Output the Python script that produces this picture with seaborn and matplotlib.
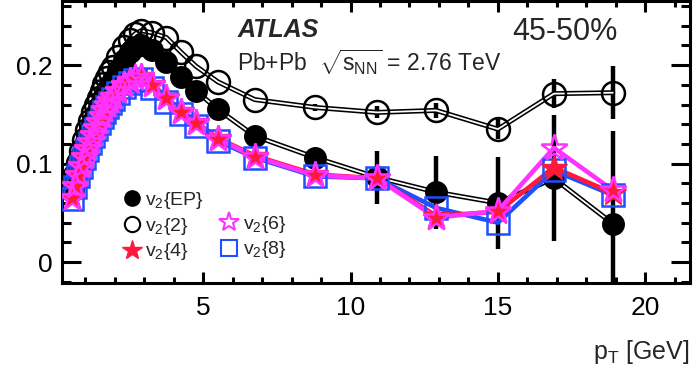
import matplotlib
matplotlib.use('Agg')
import pandas as pd
import matplotlib.pyplot as plt
import seaborn as sns
from matplotlib.lines import Line2D
from matplotlib.ticker import MultipleLocator

# pT bin centres [GeV]
pt = [0.55, 0.65, 0.75, 0.85, 0.95, 1.05, 1.15, 1.25, 1.35, 1.45, 1.55, 1.65, 1.75, 1.85, 1.95,
      2.1, 2.3, 2.5, 2.7, 2.9, 3.25, 3.75, 4.25, 4.75, 5.5, 6.75, 8.8, 10.9, 12.9, 15.0, 16.9, 18.9]

v2_ep = [0.072, 0.085, 0.097, 0.108, 0.118, 0.127, 0.135, 0.143, 0.150, 0.157, 0.163, 0.169, 0.175, 0.180, 0.185,
         0.195, 0.205, 0.213, 0.218, 0.220, 0.215, 0.203, 0.188, 0.174, 0.155, 0.128, 0.106, 0.086, 0.071, 0.060, 0.085, 0.039]
v2_2 = [0.074, 0.088, 0.101, 0.113, 0.124, 0.134, 0.143, 0.152, 0.160, 0.167, 0.174, 0.181, 0.187, 0.193, 0.198,
        0.208, 0.218, 0.226, 0.232, 0.235, 0.233, 0.228, 0.213, 0.199, 0.183, 0.165, 0.157, 0.152, 0.154, 0.135, 0.171, 0.172]
v2_4 = [0.066, 0.078, 0.089, 0.099, 0.108, 0.116, 0.123, 0.130, 0.137, 0.143, 0.149, 0.155, 0.160, 0.165, 0.169,
        0.175, 0.181, 0.185, 0.188, 0.189, 0.181, 0.168, 0.153, 0.142, 0.126, 0.108, 0.089, 0.085, 0.047, 0.051, 0.096, 0.070]
v2_6 = [0.065, 0.077, 0.088, 0.098, 0.107, 0.115, 0.122, 0.129, 0.136, 0.142, 0.148, 0.154, 0.159, 0.164, 0.168,
        0.174, 0.180, 0.184, 0.187, 0.188, 0.180, 0.167, 0.152, 0.141, 0.125, 0.107, 0.088, 0.085, 0.045, 0.052, 0.116, 0.073]
v2_8 = [0.064, 0.076, 0.087, 0.097, 0.106, 0.114, 0.121, 0.128, 0.135, 0.141, 0.147, 0.152, 0.157, 0.162, 0.166,
        0.172, 0.178, 0.182, 0.185, 0.186, 0.177, 0.163, 0.150, 0.138, 0.123, 0.106, 0.087, 0.085, 0.055, 0.040, 0.093, 0.068]

# statistical errors (only visible at high pT)
v2_ep_err = [0.0] * 26 + [0.005, 0.027, 0.037, 0.047, 0.064, 0.094]
v2_2_err = [0.0] * 26 + [0.004, 0.006, 0.008, 0.010, 0.015, 0.027]

df = pd.DataFrame({'pt': pt, 'ep': v2_ep, 'c2': v2_2, 'c4': v2_4, 'c6': v2_6, 'c8': v2_8})

sns.set_style('ticks')
plt.rcParams['font.family'] = ['Liberation Sans', 'DejaVu Sans']
plt.rcParams['mathtext.fontset'] = 'custom'
plt.rcParams['mathtext.rm'] = 'Liberation Sans'
plt.rcParams['mathtext.it'] = 'Liberation Sans:italic'

fig = plt.figure(figsize=(6.97, 3.75), dpi=100)
ax = fig.add_axes([0.089, 0.2453, 0.901, 0.7517])

red = '#ff1a3c'
mag = '#ff33ff'
blue = '#1f4fff'

# error bars
ax.errorbar(pt, v2_ep, yerr=v2_ep_err, fmt='none', ecolor='black', elinewidth=3.2, capsize=0, zorder=1)
ax.errorbar(pt, v2_2, yerr=v2_2_err, fmt='none', ecolor='black', elinewidth=3.2, capsize=0, zorder=1)

# black double lines
for col in ['c2', 'ep']:
    sns.lineplot(data=df, x='pt', y=col, color='black', lw=3.6, ax=ax, zorder=2)
    sns.lineplot(data=df, x='pt', y=col, color='white', lw=1.3, ax=ax, zorder=2.1)

ax.plot(df['pt'], df['ep'], ls='none', marker='o', ms=15.5, color='black', zorder=3)
ax.plot(df['pt'], df['c2'], ls='none', marker='o', ms=16.5, mfc='none', mec='black', mew=1.8, zorder=3)

# coloured cumulants
sns.lineplot(data=df, x='pt', y='c8', color=blue, lw=3.3, ax=ax, zorder=4)
sns.lineplot(data=df, x='pt', y='c4', color=red, lw=3.3, ax=ax, zorder=4)
sns.lineplot(data=df, x='pt', y='c6', color=mag, lw=3.3, ax=ax, zorder=4)
ax.plot(df['pt'], df['c8'], ls='none', marker='s', ms=16, mfc='none', mec=blue, mew=1.8, zorder=5)
ax.plot(df['pt'], df['c4'], ls='none', marker='*', ms=19, color=red, mec=red, zorder=6)
ax.plot(df['pt'], df['c6'], ls='none', marker='*', ms=19.5, mfc='none', mec=mag, mew=1.8, zorder=7)

ax.set_xlim(0.21, 21.52)
ax.set_ylim(-0.0213, 0.265)
ax.set_xlabel('')
ax.set_ylabel('')
ax.xaxis.set_major_locator(MultipleLocator(5))
ax.xaxis.set_minor_locator(MultipleLocator(1))
ax.yaxis.set_major_locator(MultipleLocator(0.1))
ax.yaxis.set_minor_locator(MultipleLocator(0.02))
ax.set_yticks([0, 0.1, 0.2])
ax.set_yticklabels(['0', '0.1', '0.2'])
ax.tick_params(axis='both', which='both', direction='in', top=True, right=True, width=2.2, colors='black')
ax.tick_params(axis='y', which='major', length=13.5, labelsize=19, pad=7)
ax.tick_params(axis='y', which='minor', length=6.5)
ax.tick_params(axis='x', which='major', length=8, labelsize=19, pad=9)
ax.tick_params(axis='x', which='minor', length=4)
for s in ax.spines.values():
    s.set_linewidth(2.2)
    s.set_color('black')

ax.text(0.279, 0.897, 'ATLAS', transform=ax.transAxes, fontsize=18, fontweight='bold',
        fontstyle='italic', va='center', ha='left')
ax.text(0.279, 0.784, r'Pb+Pb  $\sqrt{\mathrm{s}_{\mathrm{NN}}}$ = 2.76 TeV', transform=ax.transAxes,
        fontsize=16.5, va='center', ha='left')
ax.text(0.717, 0.89, '45-50%', transform=ax.transAxes, fontsize=22, va='center', ha='left')
fig.text(0.99, 0.061, r'$\mathrm{p}_{\mathrm{T}}$ [GeV]', fontsize=18, ha='right', va='center')

handles = [
    Line2D([], [], ls='none', marker='o', ms=11, color='black'),
    Line2D([], [], ls='none', marker='o', ms=11, mfc='none', mec='black', mew=1.5),
    Line2D([], [], ls='none', marker='*', ms=15, color=red),
    Line2D([], [], ls='none'),
    Line2D([], [], ls='none', marker='*', ms=15, mfc='none', mec=mag, mew=1.5),
    Line2D([], [], ls='none', marker='s', ms=12, mfc='none', mec=blue, mew=1.5),
]
labels = [r'v$_2${EP}', r'v$_2${2}', r'v$_2${4}', '', r'v$_2${6}', r'v$_2${8}']
ax.legend(handles, labels, ncol=2, loc='upper left', bbox_to_anchor=(0.0955, 0.331), frameon=False,
          fontsize=14, handlelength=1.0, handletextpad=0.2, columnspacing=0.8, labelspacing=0.25,
          borderpad=0, borderaxespad=0)

fig.savefig('out.png', dpi=100)
